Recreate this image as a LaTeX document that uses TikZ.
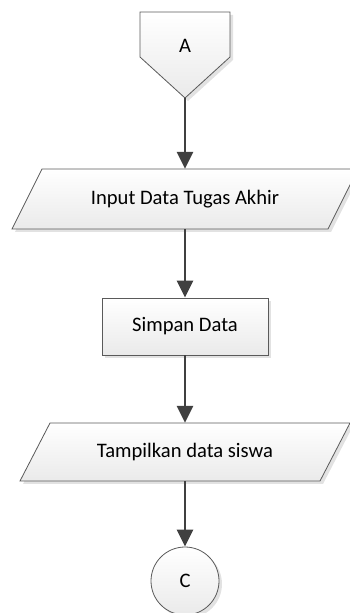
\documentclass[tikz,border=0pt]{standalone}
\usepackage{fontspec}
\setmainfont{Carlito}
\usetikzlibrary{arrows.meta}
\definecolor{bordercol}{HTML}{5A5A5A}
\definecolor{arrowcol}{HTML}{404040}
\definecolor{fillbot}{HTML}{EAEAEA}
\definecolor{shadowcol}{HTML}{E2E2E2}
\tikzset{
  shapefill/.style={draw=bordercol, line width=0.8pt, top color=white, bottom color=fillbot},
  shadowfill/.style={fill=shadowcol, draw=none},
  arr/.style={draw=arrowcol, line width=2.7pt, -{Triangle[length=17pt,width=16pt]}},
  lbl/.style={font=\fontsize{20.6}{24}\selectfont, text=black, inner sep=0pt}
}
\begin{document}
\begin{tikzpicture}[x=1pt,y=1pt]
\useasboundingbox (0,0) rectangle (349,613);
% off-page connector A
\fill[shadowfill, shift={(3,-3)}] (140,601) -- (230,601) -- (230,556) -- (185,515) -- (140,556) -- cycle;
\draw[shapefill] (140,601) -- (230,601) -- (230,556) -- (185,515) -- (140,556) -- cycle;
\node[lbl] (a) at (185,567) {A};
\coordinate (apt) at (185,515);
% parallelogram 1
\fill[shadowfill, shift={(3,-3)}] (42,444) -- (358,444) -- (328,384) -- (12,384) -- cycle;
\draw[shapefill] (42,444) -- (358,444) -- (328,384) -- (12,384) -- cycle;
\node[lbl, minimum height=60pt, minimum width=200pt] (p1) at (185,414) {Input Data Tugas Akhir};
% process rectangle
\fill[shadowfill, shift={(3,-3)}] (102,258) rectangle (268,315);
\node[lbl, shapefill, minimum width=166pt, minimum height=57pt] (r) at (185,286.5) {Simpan Data};
% parallelogram 2
\fill[shadowfill, shift={(3,-3)}] (50,190) -- (350,190) -- (320,132) -- (20,132) -- cycle;
\draw[shapefill] (50,190) -- (350,190) -- (320,132) -- (20,132) -- cycle;
\node[lbl, minimum height=58pt, minimum width=200pt] (p2) at (185,161) {Tampilkan data siswa};
% connector circle C
\fill[shadowfill] (188,29) circle (34);
\node[lbl, shapefill, circle, minimum size=68pt] (c) at (185,32) {C};
% arrows
\draw[arr] (apt) -- (p1.north);
\draw[arr] (p1.south) -- (r.north);
\draw[arr] (r.south) -- (p2.north);
\draw[arr] (p2.south) -- (c.north);
\end{tikzpicture}
\end{document}
